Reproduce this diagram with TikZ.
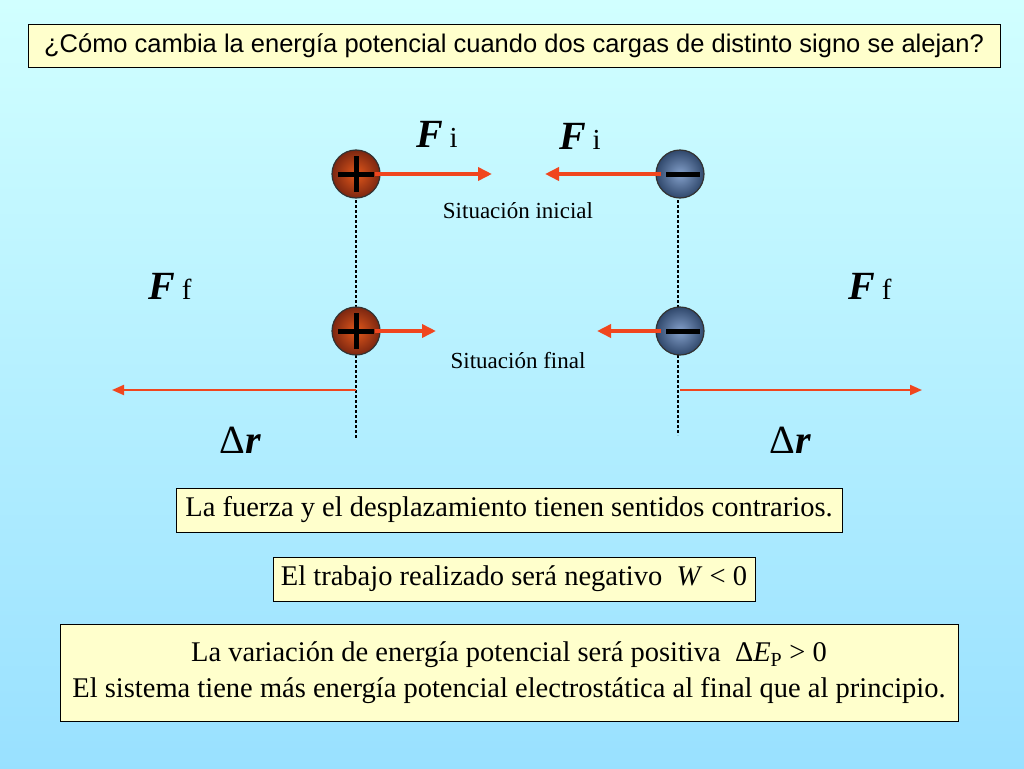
\documentclass[tikz,border=0pt]{standalone}
\usepackage{fontspec}
\setmainfont{Liberation Serif}
\newfontfamily\arialfont{Liberation Sans}
\usetikzlibrary{arrows.meta,positioning}
\definecolor{boxyellow}{RGB}{255,255,204}
\definecolor{forcered}{RGB}{240,70,30}
\definecolor{posred}{RGB}{225,70,30}
\definecolor{negblue}{RGB}{80,120,180}
\newcommand{\vecF}[1]{{\bfseries\itshape F}\,{\fontsize{29}{29}\selectfont #1}}
\tikzset{
  infobox/.style={draw=black, line width=1pt, fill=boxyellow, inner sep=5pt, font=\fontsize{28.5}{36}\selectfont, align=center},
  force/.style={forcered, line width=3.5pt, -{Triangle[length=14pt,width=13pt]}},
  guide/.style={densely dashed, line width=1.2pt},
  poscharge/.style={circle, minimum size=48pt, inner sep=0pt, draw=black!80, line width=1.2pt, inner color=posred!90!yellow, outer color=posred!55!black},
  negcharge/.style={circle, minimum size=48pt, inner sep=0pt, draw=black!80, line width=1.2pt, inner color=negblue!70!white, outer color=negblue!60!black},
  flabel/.style={font=\fontsize{40}{40}\selectfont}
}
\begin{document}
\begin{tikzpicture}[x=1pt,y=-1pt]
  % background
  \shade[top color=cyan!18, bottom color=blue!30!cyan!40] (0,0) rectangle (1024,768);
  \useasboundingbox (0,0) rectangle (1024,768);
  \node[infobox, font=\arialfont\fontsize{25.5}{30}\selectfont, minimum width=972pt, minimum height=42pt] (title) at (514,46)
    {¿Cómo cambia la energía potencial cuando dos cargas de distinto signo se alejan?};

  % guide lines
  \coordinate (gl1) at (356,200); \coordinate (gl2) at (356,438);
  \coordinate (gr1) at (678,200); \coordinate (gr2) at (678,435);
  \draw[guide] (gl1) -- (gl2);
  \draw[guide] (gr1) -- (gr2);

  % charges
  \node[poscharge] (P1) at (356,174) {};
  \node[negcharge] (N1) at (680,174) {};
  \node[poscharge] (P2) at (356,331) {};
  \node[negcharge] (N2) at (680,331) {};
  \foreach \c in {P1,P2} {
    \draw[line width=5pt] ([xshift=-18pt]\c.center) -- ([xshift=18pt]\c.center);
    \draw[line width=5pt] ([yshift=-18pt]\c.center) -- ([yshift=18pt]\c.center);
  }
  \foreach \c in {N1,N2}
    \draw[line width=5pt] ([xshift=-14pt]\c.center) -- ([xshift=20pt]\c.center);

  % forces
  \coordinate (a1) at (492,174); \coordinate (a2) at (545,174);
  \coordinate (b1) at (436,331); \coordinate (b2) at (597,331);
  \draw[force] ([xshift=-6pt]P1.east) -- (a1);
  \draw[force] ([xshift=6pt]N1.west) -- (a2);
  \draw[force] ([xshift=-6pt]P2.east) -- (b1);
  \draw[force] ([xshift=6pt]N2.west) -- (b2);

  % displacements
  \coordinate (dl0) at (356,390); \coordinate (dl) at (112,390);
  \coordinate (dr0) at (680,390); \coordinate (dr) at (922,390);
  \draw[force, line width=2pt, -{Triangle[length=12pt,width=10pt]}] (dl0) -- (dl);
  \draw[force, line width=2pt, -{Triangle[length=12pt,width=10pt]}] (dr0) -- (dr);

  % labels
  \node[flabel] (fi1) at (437,134) {\vecF{i}};
  \node[flabel] (fi2) at (580,136) {\vecF{i}};
  \node[flabel] (ff1) at (170,286) {\vecF{f}};
  \node[flabel] (ff2) at (870,286) {\vecF{f}};
  \node[flabel] (dr1) at (240,440) {Δ{\bfseries\itshape r}};
  \node[flabel] (dr2) at (790,440) {Δ{\bfseries\itshape r}};
  \node[font=\fontsize{23}{23}\selectfont] (ini) at (518,211) {Situación inicial};
  \node[font=\fontsize{23}{23}\selectfont] (fin) at (518,361) {Situación final};

  % conclusions
  \node[infobox, minimum width=666pt, minimum height=44pt] (box1) at (509,510)
    {La fuerza y el desplazamiento tienen sentidos contrarios.};
  \node[infobox, minimum width=482pt, minimum height=44pt] (box2) at (514,579)
    {El trabajo realizado será negativo \ \textit{W} < 0};
  \node[infobox, minimum width=898pt, minimum height=97pt] (box3) at (509,673)
    {La variación de energía potencial será positiva \ Δ\textit{E}\textsubscript{P} > 0\\
     El sistema tiene más energía potencial electrostática al final que al principio.};
\end{tikzpicture}
\end{document}
